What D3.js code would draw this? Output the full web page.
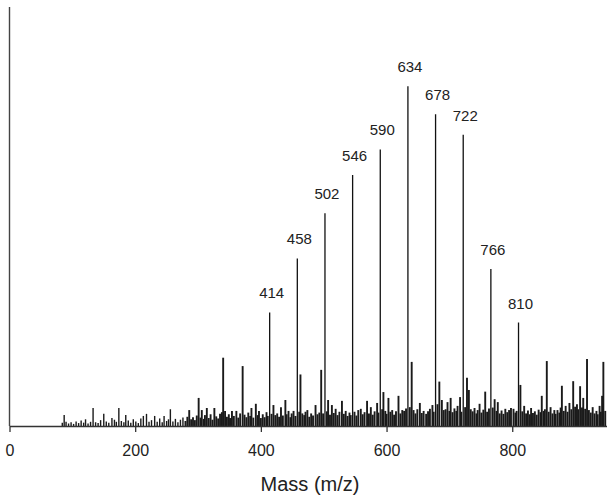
<!DOCTYPE html>
<html>
<head>
<meta charset="utf-8">
<script src="https://cdn.jsdelivr.net/npm/d3@7"></script>
<style>
  body { margin: 0; background: #fff; }
  svg { font-family: "Liberation Sans", Arial, sans-serif; }
</style>
</head>
<body>
<div class="spectrum"></div>
<script>
// labelled oligomer peaks (m/z, relative intensity %)
var peakMasses = [414, 458, 502, 546, 590, 634, 678, 722, 766, 810]
var peakIntensities = [27.1, 40.0, 50.8, 59.9, 66.0, 81.1, 74.4, 69.5, 37.5, 24.7]

// background / unlabelled peaks [m/z, intensity %]
var noisePeaks = [
  [84,0.8],[87,2.6],[90,1.0],[94,0.6],[98,0.9],[102,0.5],[106,1.1],[110,0.7],[114,1.3],[118,0.8],
  [121,1.6],[125,0.6],[129,1.0],[133,4.3],[137,0.9],[141,0.7],[145,1.4],[150,2.9],[154,1.1],[158,0.8],
  [163,1.9],[167,1.5],[170,1.0],[174,4.3],[178,1.2],[182,0.9],[185,2.6],[189,1.3],[193,0.8],[197,1.6],
  [201,1.1],[205,0.7],[209,1.8],[213,2.4],[218,2.9],[222,1.0],[226,1.4],[231,2.4],[235,1.0],[239,1.8],
  [243,0.9],[246,2.4],[250,1.2],[253,1.6],[256,4.0],[260,1.1],[264,1.7],[268,0.9],[272,1.5],[276,2.0],
  [280,1.2],[283,2.2],[286,3.8],[289,1.6],[292,2.1],[295,1.4],[298,2.5],[301,6.7],[304,2.0],[306,3.8],
  [309,1.7],[311,2.6],[314,4.3],[317,1.9],[320,2.8],[323,1.5],[326,4.3],[329,2.3],[332,1.8],[335,2.9],
  [338,3.3],[340,16.3],[343,3.6],[346,2.2],[349,2.8],[351,1.9],[354,3.6],[357,2.4],[361,3.6],[364,2.0],
  [367,3.0],[371,14.3],[374,2.7],[377,2.1],[380,3.2],[383,2.4],[385,4.3],[388,2.0],[392,5.3],[395,2.6],
  [397,3.6],[400,1.9],[403,2.8],[406,2.1],[409,3.3],[411,2.4],[417,2.9],[420,5.0],[423,2.6],[426,3.0],
  [429,2.2],[432,4.5],[435,2.5],[439,6.2],[441,2.8],[444,3.6],[447,2.1],[449,3.0],[452,3.6],[455,2.4],
  [461,3.4],[463,12.3],[466,3.0],[469,2.6],[471,3.4],[474,3.8],[477,2.2],[480,3.0],[483,2.5],[487,5.0],
  [490,2.8],[493,3.2],[496,13.4],[499,3.0],[505,3.5],[507,6.2],[510,2.7],[513,5.0],[516,3.1],[519,4.1],
  [522,2.6],[525,3.4],[529,6.0],[532,2.9],[535,3.6],[538,2.4],[541,3.2],[543,2.6],[549,3.4],[552,2.5],
  [555,3.8],[559,4.1],[562,2.8],[565,3.3],[569,6.0],[572,3.0],[575,4.5],[578,2.7],[581,3.5],[585,5.5],
  [587,3.2],[593,4.0],[595,8.1],[598,3.6],[600,2.9],[603,6.7],[606,3.4],[609,3.8],[612,2.7],[615,3.5],
  [619,7.2],[622,3.0],[625,3.8],[628,3.6],[631,4.2],[637,4.5],[640,15.3],[643,3.8],[646,3.0],[649,4.0],
  [653,5.5],[656,3.1],[659,3.6],[663,2.9],[666,3.5],[669,4.1],[673,5.0],[675,3.4],[681,5.2],[684,10.6],
  [688,6.2],[691,3.8],[694,4.0],[697,5.7],[700,3.6],[702,6.7],[705,3.3],[708,4.2],[711,3.6],[713,4.8],
  [717,6.9],[719,3.4],[725,4.5],[728,11.5],[731,8.6],[734,4.0],[737,3.5],[740,4.3],[743,3.0],[745,3.8],
  [748,5.3],[751,3.2],[754,3.9],[757,8.2],[760,3.4],[763,4.2],[769,4.4],[772,6.4],[775,3.6],[777,5.7],
  [780,3.0],[783,3.7],[786,2.9],[789,4.1],[792,3.3],[795,3.8],[798,4.3],[802,4.1],[805,3.2],[807,3.6],
  [813,9.8],[816,3.5],[819,4.8],[822,3.0],[825,3.7],[828,2.8],[830,4.3],[833,3.1],[836,3.5],[839,2.7],
  [842,3.9],[845,3.3],[847,7.2],[850,3.6],[852,4.0],[855,15.5],[858,3.4],[861,4.5],[864,3.0],[867,3.8],
  [869,2.9],[872,3.8],[875,3.2],[877,4.4],[879,9.6],[882,3.6],[885,4.8],[888,3.4],[891,5.5],[894,4.0],
  [897,10.7],[900,4.6],[903,5.2],[905,4.0],[908,9.5],[911,4.4],[913,6.7],[916,4.1],[919,16.0],[922,3.8],
  [925,3.2],[928,4.5],[931,3.0],[934,3.6],[936,2.8],[939,4.8],[941,3.4],[943,7.2],[945,15.3],[948,3.6]
]

var xTicks = [0, 200, 400, 600, 800]
var xTitle = "Mass (m/z)"

document.addEventListener("DOMContentLoaded", drawSpectrum)

function drawSpectrum(){
  var width = 614,
      height = 503,
      margin = {top: 7, left: 9.5},
      plotW = 597,
      plotH = 419

  var x = d3.scaleLinear().domain([0, 950]).range([0, plotW]),
      y = d3.scaleLinear().domain([0, 100]).range([plotH, 0])

  const svg = d3.select(".spectrum").append("svg")
    .attr("width", width)
    .attr("height", height)

  const g = svg.append("g")
    .attr("transform", `translate(${margin.left},${margin.top})`)

  // noise sticks, denser-looking band above ~280
  g.append("g")
    .selectAll("line")
    .data(noisePeaks)
    .enter()
    .append("line")
    .attr("x1", d => x(d[0]))
    .attr("x2", d => x(d[0]))
    .attr("y1", y(0))
    .attr("y2", d => y(d[1]))
    .attr("stroke", "#1a1a1a")
    .attr("stroke-width", d => d[0] >= 280 ? 1.9 : 1.4)

  var peaks = peakMasses.map((m, i) => ({mz: m, v: peakIntensities[i]}))

  g.append("g")
    .selectAll("line")
    .data(peaks)
    .enter()
    .append("line")
    .attr("x1", d => x(d.mz))
    .attr("x2", d => x(d.mz))
    .attr("y1", y(0))
    .attr("y2", d => y(d.v))
    .attr("stroke", "#111")
    .attr("stroke-width", 1.3)

  g.append("g")
    .selectAll("text")
    .data(peaks)
    .enter()
    .append("text")
    .attr("x", d => x(d.mz) + 2)
    .attr("y", d => y(d.v) - 14)
    .attr("text-anchor", "middle")
    .attr("font-size", 15)
    .attr("fill", "#222")
    .text(d => d.mz)

  // axes
  const xAxis = g.append("g")
    .attr("transform", `translate(0,${plotH})`)
    .call(d3.axisBottom(x).tickValues(xTicks).tickSizeInner(6).tickSizeOuter(0).tickPadding(13))
  xAxis.select(".domain").attr("stroke", "#333").attr("stroke-width", 1.3)
  xAxis.selectAll(".tick line").attr("stroke", "#333").attr("stroke-width", 1.3)
  xAxis.selectAll("text")
    .attr("font-size", 16)
    .attr("font-family", "Liberation Sans, Arial, sans-serif")
    .attr("fill", "#222")

  g.append("line")
    .attr("x1", 0).attr("x2", 0)
    .attr("y1", 0).attr("y2", plotH)
    .attr("stroke", "#444")
    .attr("stroke-width", 1.4)

  svg.append("text")
    .attr("x", margin.left + plotW / 2 + 2)
    .attr("y", 491)
    .attr("text-anchor", "middle")
    .attr("font-size", 20)
    .attr("fill", "#222")
    .text(xTitle)
}
</script>
</body>
</html>
